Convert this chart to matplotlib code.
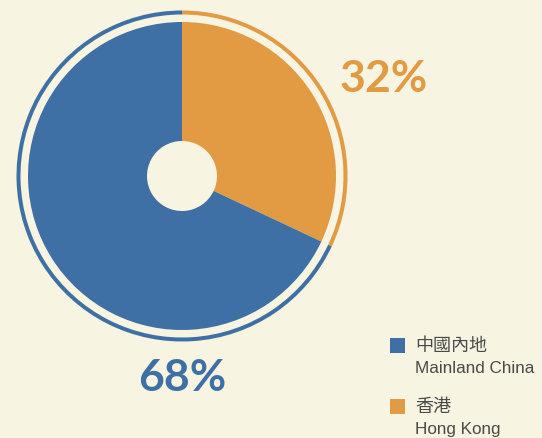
import matplotlib
matplotlib.use("Agg")
import matplotlib.pyplot as plt

# data
labels_zh = ["香港", "中國內地"]
labels_en = ["Hong Kong", "Mainland China"]
shares = [32, 68]
colors = ["#E29A43", "#3E70A5"]

bg = "#F7F4E1"
W, H = 542, 439

fig = plt.figure(figsize=(W / 100, H / 100), dpi=100, facecolor=bg)
ax = fig.add_axes([0, 0, 1, 1])
ax.set_facecolor(bg)

cx, cy = 182, H - 177

# main donut
ax.pie(shares, colors=colors, startangle=90, counterclock=False,
       center=(cx, cy), radius=154, frame=True,
       wedgeprops=dict(width=154 - 35, linewidth=0))
# thin outer ring
ax.pie(shares, colors=colors, startangle=90, counterclock=False,
       center=(cx, cy), radius=165.5, frame=True,
       wedgeprops=dict(width=4, linewidth=0))
ax.set_xlim(0, W)
ax.set_ylim(0, H)
ax.set_aspect("equal")
ax.axis("off")

pct_font = ["Lato", "DejaVu Sans"]
ax.text(384, H - 79, f"{shares[0]}%", color=colors[0], fontsize=32,
        fontweight="bold", family=pct_font, ha="center", va="center")
ax.text(182, H - 378, f"{shares[1]}%", color=colors[1], fontsize=32,
        fontweight="bold", family=pct_font, ha="center", va="center")

# legend
txt_col = "#4A4A4A"
for i, yy in [(1, 346), (0, 407)]:
    ax.add_patch(plt.Rectangle((390, H - yy - 7.5), 15, 15, color=colors[i], lw=0))
    ax.text(415, H - yy, labels_zh[i], color=txt_col, fontsize=13,
            family=["Noto Sans CJK TC", "DejaVu Sans"], ha="left", va="center")
    ax.text(415, H - yy - 23, labels_en[i], color=txt_col, fontsize=12.3,
            family=["Liberation Sans", "DejaVu Sans"], ha="left", va="center")

fig.savefig("out.png", dpi=100, facecolor=bg)
